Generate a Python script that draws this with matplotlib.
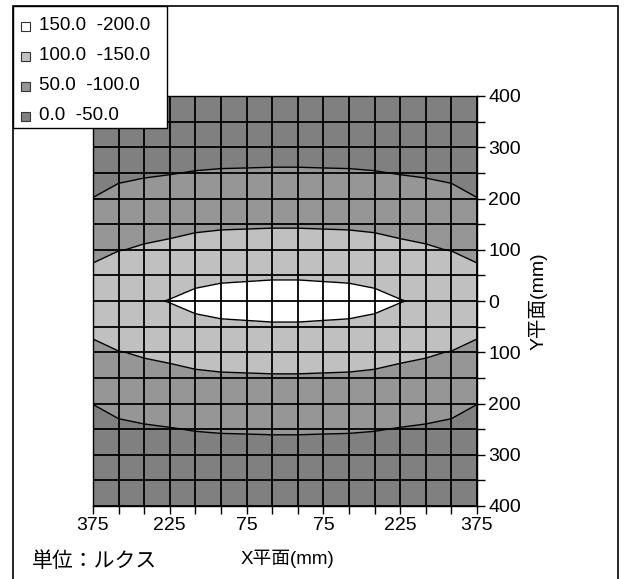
import matplotlib
matplotlib.use("Agg")
import matplotlib.pyplot as plt
import numpy as np
from matplotlib.patches import Rectangle

plt.rcParams['font.family'] = ['Liberation Sans', 'Noto Sans CJK JP', 'DejaVu Sans']

# measurement grid (mm)
x_pos = [-375, -325, -275, -225, -175, -125, -75, -25, 25, 75, 125, 175, 225, 275, 325, 375]
y_pos = [400, 350, 300, 250, 200, 150, 100, 50, 0, -50, -100, -150, -200, -250, -300, -350, -400]

# illuminance (lux), one row per y position
lux = [
    [19.7, 22.2, 23.4, 24.2, 25.1, 25.6, 25.8, 25.9, 25.9, 25.8, 25.6, 25.1, 24.2, 23.4, 22.2, 19.7],
    [24.6, 27.8, 29.2, 30.2, 31.4, 32.0, 32.2, 32.4, 32.4, 32.2, 32.0, 31.4, 30.2, 29.2, 27.8, 24.6],
    [30.8, 34.8, 36.5, 37.8, 39.3, 40.0, 40.3, 40.5, 40.5, 40.3, 40.0, 39.3, 37.8, 36.5, 34.8, 30.8],
    [40.0, 45.2, 47.5, 49.1, 51.0, 52.0, 52.3, 52.7, 52.7, 52.3, 52.0, 51.0, 49.1, 47.5, 45.2, 40.0],
    [50.4, 57.0, 59.9, 61.9, 64.4, 65.6, 66.0, 66.4, 66.4, 66.0, 65.6, 64.4, 61.9, 59.9, 57.0, 50.4],
    [73.8, 83.4, 87.6, 90.6, 94.2, 96.0, 96.6, 97.2, 97.2, 96.6, 96.0, 94.2, 90.6, 87.6, 83.4, 73.8],
    [87.3, 98.7, 103.7, 107.2, 111.5, 113.6, 114.3, 115.0, 115.0, 114.3, 113.6, 111.5, 107.2, 103.7, 98.7, 87.3],
    [111.9, 126.5, 132.9, 137.4, 142.9, 145.6, 146.5, 147.4, 147.4, 146.5, 145.6, 142.9, 137.4, 132.9, 126.5, 111.9],
    [123, 139, 146, 151, 157, 160, 161, 162, 162, 161, 160, 157, 151, 146, 139, 123],
    [111.9, 126.5, 132.9, 137.4, 142.9, 145.6, 146.5, 147.4, 147.4, 146.5, 145.6, 142.9, 137.4, 132.9, 126.5, 111.9],
    [87.3, 98.7, 103.7, 107.2, 111.5, 113.6, 114.3, 115.0, 115.0, 114.3, 113.6, 111.5, 107.2, 103.7, 98.7, 87.3],
    [73.8, 83.4, 87.6, 90.6, 94.2, 96.0, 96.6, 97.2, 97.2, 96.6, 96.0, 94.2, 90.6, 87.6, 83.4, 73.8],
    [50.4, 57.0, 59.9, 61.9, 64.4, 65.6, 66.0, 66.4, 66.4, 66.0, 65.6, 64.4, 61.9, 59.9, 57.0, 50.4],
    [40.0, 45.2, 47.5, 49.1, 51.0, 52.0, 52.3, 52.7, 52.7, 52.3, 52.0, 51.0, 49.1, 47.5, 45.2, 40.0],
    [30.8, 34.8, 36.5, 37.8, 39.3, 40.0, 40.3, 40.5, 40.5, 40.3, 40.0, 39.3, 37.8, 36.5, 34.8, 30.8],
    [24.6, 27.8, 29.2, 30.2, 31.4, 32.0, 32.2, 32.4, 32.4, 32.2, 32.0, 31.4, 30.2, 29.2, 27.8, 24.6],
    [19.7, 22.2, 23.4, 24.2, 25.1, 25.6, 25.8, 25.9, 25.9, 25.8, 25.6, 25.1, 24.2, 23.4, 22.2, 19.7],
]

levels = [0, 50, 100, 150, 200]
band_colors = ['#808080', '#969696', '#c0c0c0', '#ffffff']
band_labels = ['0.0  -50.0', '50.0  -100.0', '100.0  -150.0', '150.0  -200.0']

x_major = [-375, -225, -75, 75, 225, 375]
y_major = [400, 300, 200, 100, 0, -100, -200, -300, -400]

W, H = 625, 579
fig = plt.figure(figsize=(W / 100, H / 100), dpi=100)
ax = fig.add_axes([93 / W, 1 - 506 / H, 384 / W, 410 / H])

X, Y = np.meshgrid(x_pos, y_pos)
Z = np.array(lux)
ax.contourf(X, Y, Z, levels=levels, colors=band_colors)
ax.contour(X, Y, Z, levels=levels[1:-1], colors='black', linewidths=1.0)

ax.set_xlim(-375, 375)
ax.set_ylim(-400, 400)

ax.set_xticks(x_major)
ax.set_xticklabels([str(abs(v)) for v in x_major])
ax.set_xticks(x_pos, minor=True)
ax.set_yticks(y_major)
ax.set_yticklabels([str(abs(v)) for v in y_major])
ax.set_yticks(y_pos, minor=True)
ax.yaxis.tick_right()
ax.tick_params(which='both', direction='out', length=6, width=1, colors='black',
               labelsize=14, pad=2)

ax.grid(which='both', color='black', linewidth=1.3)
ax.set_axisbelow(False)
for s in ax.spines.values():
    s.set_color('black')
    s.set_linewidth(1.0)

ax.text((287 - 93) / 384, (506 - 559) / 410, 'X平面(mm)', transform=ax.transAxes,
        fontsize=13.5, ha='center', va='center')
ax.text((538 - 93) / 384, 0.5, 'Y平面(mm)', transform=ax.transAxes,
        fontsize=14, ha='center', va='center', rotation=90)

fig.text(32 / W, 1 - 561 / H, '単位：ルクス', fontsize=15, va='center', ha='left')

# outer chart frame
fig.patches.append(Rectangle((13 / W, -0.01), 605 / W, 1.01 - 6 / H,
                             transform=fig.transFigure, fill=False,
                             edgecolor='black', linewidth=1.2, zorder=1))

# legend box (Excel style, drawn over the plot area)
fig.patches.append(Rectangle((13 / W, 1 - 128 / H), 154 / W, 122 / H,
                             transform=fig.transFigure, facecolor='white',
                             edgecolor='black', linewidth=1.0, zorder=3))
for i, (c, lab) in enumerate(zip(band_colors[::-1], band_labels[::-1])):
    base = 29.5 + i * 30.2
    fig.patches.append(Rectangle((21 / W, 1 - (base + 1.3) / H), 9 / W, 9 / H,
                                 transform=fig.transFigure, facecolor=c,
                                 edgecolor='#333333', linewidth=0.8, zorder=4))
    fig.text(39 / W, 1 - base / H, lab, fontsize=13.5, ha='left', va='baseline',
             zorder=5)

fig.savefig('out.png', dpi=100)
